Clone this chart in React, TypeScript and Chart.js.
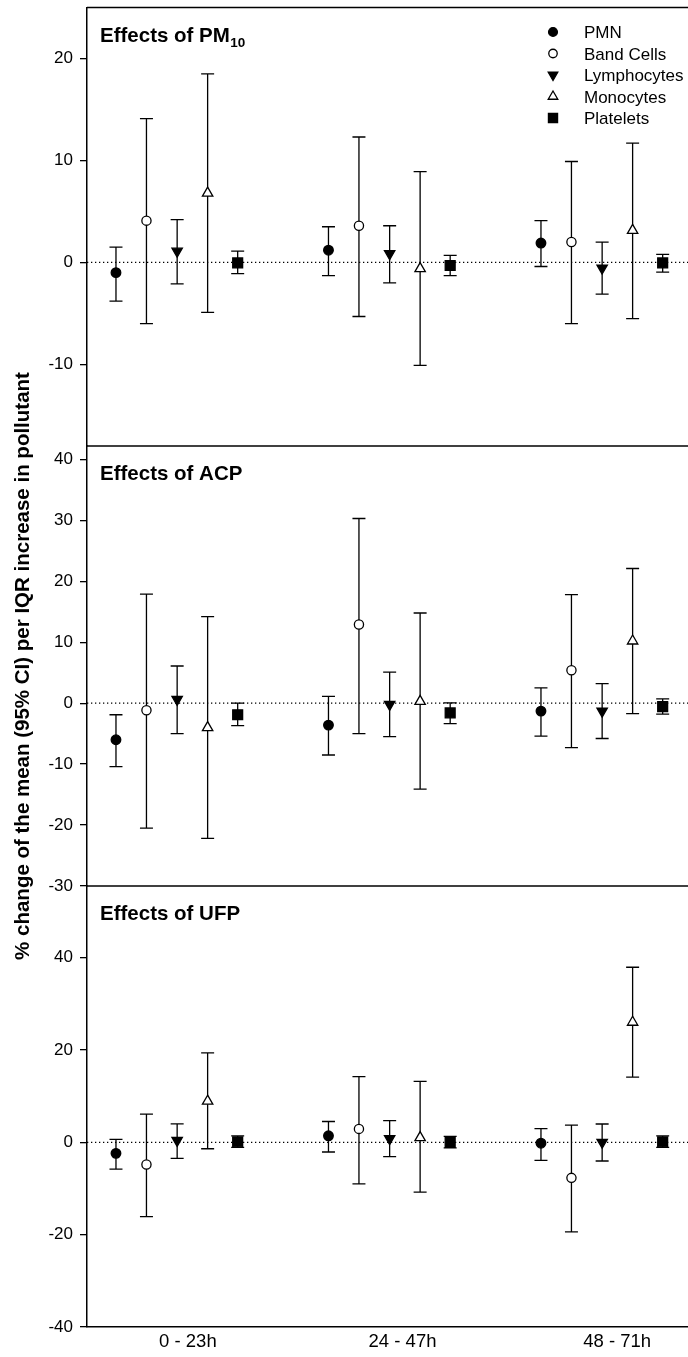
import React, { useEffect, useRef } from 'react';
import { Chart, registerables } from 'chart.js';
import { drawPoint } from 'chart.js/helpers';

Chart.register(...registerables);

const FONT = "'Liberation Sans', Arial, Helvetica, sans-serif";

// ---- categories / x positions ----
const timeWindows = ['0 - 23h', '24 - 47h', '48 - 71h'];
const timeWindowTicks = [1, 2, 3];
const groupCenters = [0.95, 1.94, 2.93];

// ---- series ----
const seriesNames = ['PMN', 'Band Cells', 'Lymphocytes', 'Monocytes', 'Platelets'];
const seriesOffsets = [-0.285, -0.143, 0, 0.142, 0.282];

// ---- PM10 panel (rows: PMN, Band, Lympho, Mono, Platelets; cols: time windows) ----
const pm10Mean = [
  [-1.0, 1.2, 1.9],
  [4.1, 3.6, 2.0],
  [1.1, 0.85, -0.55],
  [6.8, -0.6, 3.15],
  [-0.05, -0.3, -0.05],
];
const pm10Lower = [
  [-3.8, -1.3, -0.4],
  [-6.0, -5.3, -6.0],
  [-2.1, -2.0, -3.1],
  [-4.9, -10.1, -5.5],
  [-1.1, -1.3, -0.95],
];
const pm10Upper = [
  [1.5, 3.5, 4.1],
  [14.1, 12.3, 9.9],
  [4.2, 3.6, 2.0],
  [18.5, 8.9, 11.7],
  [1.1, 0.7, 0.8],
];

// ---- ACP panel ----
const acpMean = [
  [-6.0, -3.6, -1.3],
  [-1.15, 12.9, 5.4],
  [0.6, -0.2, -1.3],
  [-4.0, 0.3, 10.2],
  [-1.9, -1.6, -0.55],
];
const acpLower = [
  [-10.4, -8.5, -5.4],
  [-20.5, -5.0, -7.3],
  [-5.0, -5.5, -5.8],
  [-22.2, -14.1, -1.7],
  [-3.7, -3.35, -1.8],
];
const acpUpper = [
  [-1.9, 1.1, 2.5],
  [17.9, 30.3, 17.8],
  [6.1, 5.1, 3.2],
  [14.2, 14.8, 22.1],
  [0.0, 0.05, 0.7],
];

// ---- UFP panel ----
const ufpMean = [
  [-2.4, 1.4, -0.2],
  [-4.8, 2.9, -7.7],
  [0.4, 0.8, 0.0],
  [8.9, 1.0, 26.0],
  [0.1, 0.0, 0.1],
];
const ufpLower = [
  [-5.8, -2.1, -3.9],
  [-16.1, -9.0, -19.4],
  [-3.5, -3.1, -4.05],
  [-1.4, -10.8, 14.1],
  [-1.1, -1.2, -1.1],
];
const ufpUpper = [
  [0.65, 4.5, 2.95],
  [6.1, 14.2, 3.7],
  [4.0, 4.7, 3.96],
  [19.35, 13.2, 37.9],
  [1.4, 1.3, 1.4],
];

// ---- panel axes ----
const panelIds = ['yPM10', 'yACP', 'yUFP'];
const panelTitles = ['Effects of PM', 'Effects of ACP', 'Effects of UFP'];
const panelTitleSubs = ['10', '', ''];
const panelMin = [-18, -30, -40];
const panelMax = [25, 42.2, 55.5];
const panelTicks = [
  [-10, 0, 10, 20],
  [-30, -20, -10, 0, 10, 20, 30, 40],
  [-40, -20, 0, 20, 40],
];
const panelWeights = [438.5, 440, 441];
const yAxisTitle = '% change of the mean (95% CI) per IQR increase in pollutant';

const seriesStyles = [
  { pointStyle: 'circle', rotation: 0, radius: 4.8, fill: '#000' },
  { pointStyle: 'circle', rotation: 0, radius: 4.6, fill: '#fff' },
  { pointStyle: 'triangle', rotation: 180, radius: 6, fill: '#000' },
  { pointStyle: 'triangle', rotation: 0, radius: 6, fill: '#fff' },
  { pointStyle: 'rect', rotation: 0, radius: 7, fill: '#000' },
];

const panelData = [
  { mean: pm10Mean, lower: pm10Lower, upper: pm10Upper },
  { mean: acpMean, lower: acpLower, upper: acpUpper },
  { mean: ufpMean, lower: ufpLower, upper: ufpUpper },
];

const decorPlugin = {
  id: 'decor',
  beforeDatasetsDraw(chart: any) {
    const ctx = chart.ctx;
    const { left, right } = chart.chartArea;
    const xs = chart.scales.x;
    ctx.save();
    panelIds.forEach((id, p) => {
      const ys = chart.scales[id];
      // panel top border
      ctx.strokeStyle = '#000';
      ctx.lineWidth = 1.5;
      ctx.setLineDash([]);
      ctx.beginPath();
      ctx.moveTo(left, ys.top);
      ctx.lineTo(right, ys.top);
      ctx.stroke();
      // dotted zero line
      const y0 = ys.getPixelForValue(0);
      ctx.lineWidth = 1.3;
      ctx.setLineDash([1.3, 2.7]);
      ctx.beginPath();
      ctx.moveTo(left, y0);
      ctx.lineTo(right, y0);
      ctx.stroke();
      ctx.setLineDash([]);
      // panel title
      ctx.fillStyle = '#000';
      ctx.textAlign = 'left';
      ctx.textBaseline = 'alphabetic';
      ctx.font = `bold 20.5px ${FONT}`;
      const tx = left + 13;
      const ty = ys.top + 34;
      ctx.fillText(panelTitles[p], tx, ty);
      if (panelTitleSubs[p]) {
        const w = ctx.measureText(panelTitles[p]).width;
        ctx.font = `bold 13.5px ${FONT}`;
        ctx.fillText(panelTitleSubs[p], tx + w + 0.5, ty + 5.5);
      }
    });
    // error bars
    ctx.strokeStyle = '#000';
    ctx.lineWidth = 1.3;
    chart.data.datasets.forEach((ds: any) => {
      const ys = chart.scales[ds.yAxisID];
      ds.data.forEach((pt: any, j: number) => {
        const x = xs.getPixelForValue(pt.x);
        const yl = ys.getPixelForValue(ds.lower[j]);
        const yh = ys.getPixelForValue(ds.upper[j]);
        const cap = 6.5;
        ctx.beginPath();
        ctx.moveTo(x, yl);
        ctx.lineTo(x, yh);
        ctx.moveTo(x - cap, yl);
        ctx.lineTo(x + cap, yl);
        ctx.moveTo(x - cap, yh);
        ctx.lineTo(x + cap, yh);
        ctx.stroke();
      });
    });
    ctx.restore();
  },
  afterDraw(chart: any) {
    const ctx = chart.ctx;
    const { right } = chart.chartArea;
    ctx.save();
    // shared y-axis title
    const mid = chart.scales.yACP;
    ctx.translate(23.5, (mid.top + mid.bottom) / 2);
    ctx.rotate(-Math.PI / 2);
    ctx.fillStyle = '#000';
    ctx.font = `bold 20.5px ${FONT}`;
    ctx.textAlign = 'center';
    ctx.textBaseline = 'middle';
    ctx.fillText(yAxisTitle, 0, 0);
    ctx.restore();

    // legend
    ctx.save();
    const ys = chart.scales.yPM10;
    seriesNames.forEach((name, s) => {
      const y = ys.top + 24.5 + s * 21.5;
      const st = seriesStyles[s];
      ctx.fillStyle = st.fill;
      ctx.strokeStyle = '#000';
      ctx.lineWidth = 1.3;
      drawPoint(ctx, { pointStyle: st.pointStyle, rotation: st.rotation, radius: st.radius * 0.92, borderWidth: 1.3 } as any, right - 135, y);
      ctx.fillStyle = '#000';
      ctx.font = `17px ${FONT}`;
      ctx.textAlign = 'left';
      ctx.textBaseline = 'middle';
      ctx.fillText(name, right - 104, y + 1.5);
    });
    ctx.restore();
  },
};

export default function App() {
  const canvasRef = useRef<HTMLCanvasElement | null>(null);

  useEffect(() => {
    const canvas = canvasRef.current;
    if (!canvas) return;

    const datasets: any[] = [];
    panelData.forEach((pd, p) => {
      seriesNames.forEach((name, s) => {
        const st = seriesStyles[s];
        datasets.push({
          label: name,
          yAxisID: panelIds[p],
          xAxisID: 'x',
          data: pd.mean[s].map((v, g) => ({ x: groupCenters[g] + seriesOffsets[s], y: v })),
          lower: pd.lower[s],
          upper: pd.upper[s],
          showLine: false,
          pointStyle: st.pointStyle,
          pointRotation: st.rotation,
          pointRadius: st.radius,
          pointHoverRadius: st.radius,
          pointBackgroundColor: st.fill,
          pointBorderColor: '#000',
          pointBorderWidth: 1.3,
          clip: false,
        });
      });
    });

    const scales: any = {
      x: {
        type: 'linear',
        position: 'bottom',
        min: 0.53,
        max: 3.33,
        afterFit: (s: any) => { s.height = 30; s.paddingLeft = 0; s.paddingRight = 0; },
        afterBuildTicks: (s: any) => { s.ticks = timeWindowTicks.map((v) => ({ value: v })); },
        ticks: {
          color: '#000',
          font: { family: FONT, size: 18.5 },
          padding: 4,
          autoSkip: false,
          maxRotation: 0,
          callback: (v: any) => {
            const k = timeWindowTicks.indexOf(v);
            return k >= 0 ? timeWindows[k] : '';
          },
        },
        grid: { display: false, drawTicks: false },
        border: { display: true, color: '#000', width: 1.5 },
      },
    };
    panelIds.forEach((id, i) => {
      scales[id] = {
        type: 'linear',
        position: 'left',
        stack: 'panels',
        stackWeight: panelWeights[i],
        weight: 3 - i,
        min: panelMin[i],
        max: panelMax[i],
        afterFit: (s: any) => { s.width = 87; s.paddingTop = 0; s.paddingBottom = 0; },
        afterBuildTicks: (s: any) => { s.ticks = panelTicks[i].map((v) => ({ value: v })); },
        ticks: { color: '#000', font: { family: FONT, size: 17 }, padding: 7, autoSkip: false },
        grid: { drawOnChartArea: false, drawTicks: true, tickLength: 7, tickColor: '#000', tickWidth: 1.3, color: '#000', lineWidth: 1.3 },
        border: { display: true, color: '#000', width: 1.5 },
      };
    });

    const chart = new Chart(canvas, {
      type: 'scatter',
      data: { datasets },
      options: {
        animation: false,
        responsive: false,
        devicePixelRatio: 1,
        events: [],
        layout: { autoPadding: false, padding: { top: 7.5, left: 0, right: 0, bottom: 0 } },
        plugins: { legend: { display: false }, tooltip: { enabled: false }, title: { display: false } },
        scales,
      } as any,
      plugins: [decorPlugin],
    });
    return () => chart.destroy();
  }, []);

  return (
    <div style={{ position: 'absolute', left: 0, top: 0, width: 688, height: 1357, background: '#fff' }}>
      <canvas ref={canvasRef} width={688} height={1357} style={{ display: 'block', width: 688, height: 1357 }} />
    </div>
  );
}
